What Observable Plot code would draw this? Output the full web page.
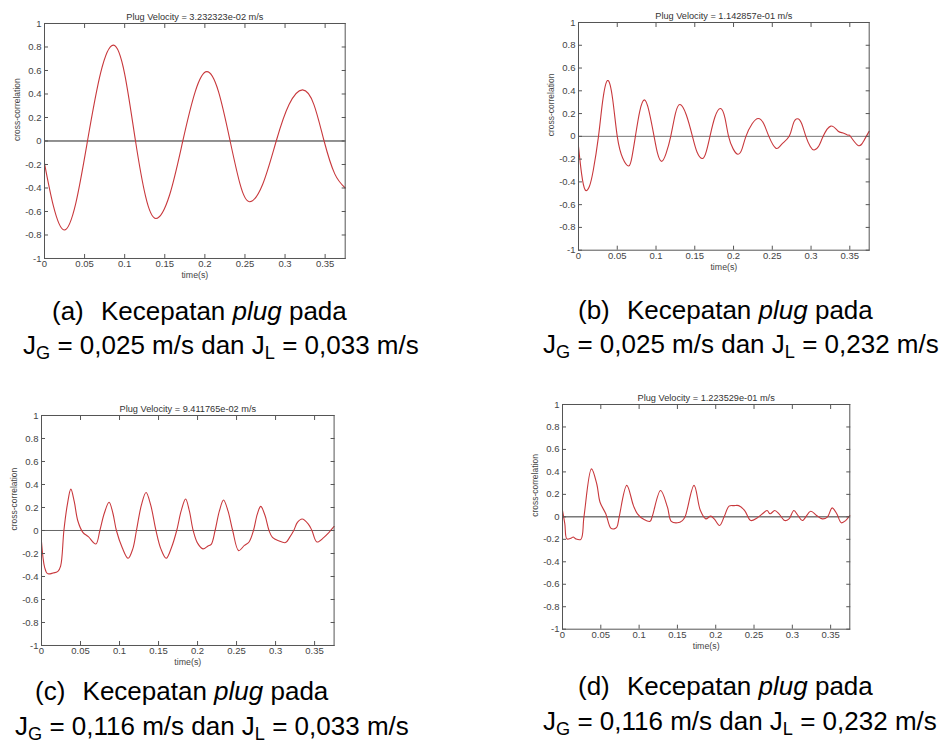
<!DOCTYPE html>
<html><head><meta charset="utf-8">
<script src="https://cdn.jsdelivr.net/npm/d3@7"></script>
<script src="https://cdn.jsdelivr.net/npm/@observablehq/plot@0.6"></script>
<style>
body{margin:0;background:#fff;}
#root{position:relative;width:951px;height:747px;overflow:hidden;font-family:"Liberation Sans",Arial,sans-serif;background:#fff;}
.panel{position:absolute;}
.panel svg{overflow:visible;}
.cap{position:absolute;font-size:26px;line-height:35px;white-space:pre;color:#000;}
.cap sub{font-size:0.7em;vertical-align:-0.26em;line-height:0;}
</style></head><body><div id="root"></div>
<script>
// ---- data ----
const xTicks = [0, 0.05, 0.1, 0.15, 0.2, 0.25, 0.3, 0.35];
const xTickLabels = ["0", "0.05", "0.1", "0.15", "0.2", "0.25", "0.3", "0.35"];
const yTicks = [-1, -0.8, -0.6, -0.4, -0.2, 0, 0.2, 0.4, 0.6, 0.8, 1];
const yTickLabels = ["-1", "-0.8", "-0.6", "-0.4", "-0.2", "0", "0.2", "0.4", "0.6", "0.8", "1"];
const titles = [
  "Plug Velocity = 3.232323e-02 m/s",
  "Plug Velocity = 1.142857e-01 m/s",
  "Plug Velocity = 9.411765e-02 m/s",
  "Plug Velocity = 1.223529e-01 m/s"
];
const xLabel = "time(s)";
const yLabel = "cross-correlation";

const timeA = [0, 0.011, 0.0245, 0.039, 0.0536, 0.070, 0.086, 0.100, 0.1135, 0.126, 0.139, 0.156, 0.1725, 0.188, 0.2024, 0.217, 0.2315, 0.244, 0.2556, 0.272, 0.289, 0.305, 0.3217, 0.336, 0.3487, 0.362, 0.375];
const corrA = [-0.19, -0.55, -0.757, -0.53, 0, 0.58, 0.816, 0.57, 0, -0.47, -0.66, -0.46, 0, 0.42, 0.59, 0.42, 0, -0.37, -0.517, -0.37, 0, 0.31, 0.435, 0.31, 0, -0.28, -0.40];

const timeB = [0, 0.004, 0.0086, 0.014, 0.019, 0.0258, 0.031, 0.0374, 0.044, 0.050, 0.057, 0.0648, 0.069, 0.0734, 0.079, 0.085, 0.091, 0.0975, 0.102, 0.1073, 0.113, 0.119, 0.125, 0.131, 0.139, 0.147, 0.153, 0.160, 0.165, 0.1696, 0.176, 0.1833, 0.189, 0.1936, 0.1995, 0.2057, 0.211, 0.216, 0.224, 0.2319, 0.239, 0.2456, 0.2546, 0.262, 0.2718, 0.277, 0.2825, 0.288, 0.2933, 0.299, 0.304, 0.310, 0.3156, 0.3255, 0.335, 0.3414, 0.3478, 0.3508, 0.3607, 0.368, 0.375];
const corrB = [-0.09, -0.33, -0.47, -0.44, -0.30, 0, 0.30, 0.49, 0.33, 0, -0.19, -0.26, -0.18, 0, 0.22, 0.32, 0.22, 0, -0.15, -0.22, -0.15, 0, 0.20, 0.28, 0.19, 0, -0.14, -0.195, -0.13, 0, 0.17, 0.245, 0.16, 0, -0.11, -0.157, -0.11, 0, 0.11, 0.157, 0.11, 0, -0.104, -0.07, 0, 0.11, 0.154, 0.11, 0, -0.09, -0.12, -0.085, 0, 0.09, 0.045, 0.03, 0.01, 0, -0.08, -0.04, 0.045];

const timeC = [0, 0.004, 0.0076, 0.0148, 0.021, 0.0245, 0.0287, 0.033, 0.0376, 0.042, 0.0465, 0.053, 0.060, 0.0697, 0.0748, 0.0805, 0.0866, 0.0915, 0.096, 0.1035, 0.111, 0.117, 0.1217, 0.128, 0.134, 0.140, 0.1467, 0.153, 0.1598, 0.1665, 0.1733, 0.179, 0.1847, 0.1895, 0.1944, 0.200, 0.207, 0.2134, 0.2175, 0.2225, 0.228, 0.2333, 0.239, 0.245, 0.2527, 0.260, 0.266, 0.2717, 0.2765, 0.281, 0.2865, 0.2916, 0.296, 0.304, 0.3128, 0.318, 0.3233, 0.328, 0.334, 0.342, 0.3466, 0.353, 0.362, 0.368, 0.375];
const corrC = [-0.10, -0.32, -0.375, -0.37, -0.355, -0.31, 0, 0.22, 0.36, 0.25, 0.085, -0.016, -0.054, -0.117, 0, 0.15, 0.245, 0.15, 0, -0.15, -0.242, -0.16, 0, 0.22, 0.33, 0.22, 0, -0.16, -0.242, -0.15, 0, 0.17, 0.274, 0.17, 0, -0.11, -0.16, -0.135, -0.12, 0, 0.17, 0.265, 0.17, 0, -0.175, -0.13, -0.10, 0, 0.14, 0.21, 0.13, 0, -0.06, -0.09, -0.105, -0.06, 0, 0.07, 0.10, 0.056, 0, -0.10, -0.06, -0.02, 0.035];

const timeD = [0, 0.003, 0.0057, 0.011, 0.014, 0.0174, 0.024, 0.028, 0.0378, 0.0448, 0.049, 0.0565, 0.063, 0.0674, 0.071, 0.074, 0.0839, 0.0926, 0.0978, 0.1065, 0.1143, 0.117, 0.128, 0.137, 0.142, 0.150, 0.1565, 0.160, 0.1717, 0.180, 0.187, 0.1935, 0.198, 0.205, 0.211, 0.2174, 0.224, 0.230, 0.2378, 0.2457, 0.254, 0.261, 0.267, 0.271, 0.277, 0.2826, 0.290, 0.2957, 0.302, 0.3074, 0.313, 0.324, 0.3317, 0.339, 0.3457, 0.352, 0.358, 0.364, 0.3696, 0.375];
const corrD = [0.056, -0.06, -0.196, -0.19, -0.18, -0.196, -0.20, 0, 0.427, 0.29, 0.13, 0.027, -0.10, -0.107, -0.09, 0, 0.28, 0.10, 0.027, -0.024, -0.04, 0, 0.234, 0.086, -0.04, -0.053, -0.033, 0, 0.28, 0.056, -0.018, 0.006, -0.018, -0.077, 0, 0.095, 0.10, 0.10, 0.056, -0.033, -0.01, 0.027, 0.056, 0.027, 0.056, 0.027, -0.033, -0.018, 0.056, 0.012, -0.033, 0.05, 0.012, -0.018, -0.003, 0.08, 0.027, -0.053, -0.033, 0.012];

const capLine1 = ["(a)", "(b)", "(c)", "(d)"];
const capLine2 = [
  ["0,025", "0,033"],
  ["0,025", "0,232"],
  ["0,116", "0,033"],
  ["0,116", "0,232"]
];

// ---- layout (frame boxes in page pixels) ----
const frames = [
  {x: 44.3, y: 23.3, w: 300.7, h: 235, zero: "#222", curve: "natural"},
  {x: 578.3, y: 22.3, w: 290.7, h: 227.7, zero: "#777", curve: "natural"},
  {x: 40.7, y: 415, w: 292.6, h: 230, zero: "#666", curve: "catmull-rom"},
  {x: 561.7, y: 404, w: 287.3, h: 224.7, zero: "#333", curve: "catmull-rom"}
];
const capPos = [
  {x1: 52, y1: 293.5, x2: 23, y2: 327.5},
  {x1: 578, y1: 292.5, x2: 543, y2: 326.5},
  {x1: 35, y1: 674, x2: 15, y2: 709},
  {x1: 578, y1: 669, x2: 543, y2: 703.5}
];

const series = [[timeA, corrA], [timeB, corrB], [timeC, corrC], [timeD, corrD]];
const root = document.getElementById("root");
const ML = 45, MR = 10, MT = 25, MB = 30;
const fmtX = d => xTickLabels[xTicks.indexOf(d)];
const fmtY = d => yTickLabels[yTicks.indexOf(d)];

series.forEach(([time, corr], k) => {
  const f = frames[k];
  const data = time.map((t, i) => ({t, v: corr[i]}));
  const chart = Plot.plot({
    width: f.w + ML + MR,
    height: f.h + MT + MB,
    marginLeft: ML, marginRight: MR, marginTop: MT, marginBottom: MB,
    style: {fontFamily: "'Liberation Sans', Arial, sans-serif", background: "transparent", overflow: "visible"},
    x: {domain: [0, 0.375]},
    y: {domain: [-1, 1]},
    marks: [
      Plot.ruleY([0], {stroke: f.zero, strokeWidth: 1}),
      Plot.line(data, {x: "t", y: "v", stroke: "#c8383c", strokeWidth: 1.1, curve: f.curve}),
      Plot.frame({stroke: "#555", strokeWidth: 1}),
      Plot.axisX({anchor: "bottom", ticks: xTicks, tickFormat: fmtX, tickSize: -4, tickPadding: 6, fontSize: 9.5, stroke: "#555", fill: "#444", label: null}),
      Plot.axisX({anchor: "top", ticks: xTicks, tickFormat: () => "", tickSize: -4, stroke: "#555", label: null}),
      Plot.axisY({anchor: "left", ticks: yTicks, tickFormat: fmtY, tickSize: -4, tickPadding: 7, fontSize: 9.5, stroke: "#555", fill: "#444", label: null}),
      Plot.axisY({anchor: "right", ticks: yTicks, tickFormat: () => "", tickSize: -4, stroke: "#555", label: null}),
      Plot.text([titles[k]], {text: d => d, frameAnchor: "top", dy: -10, fontSize: 9.2, fill: "#333"}),
      Plot.text([xLabel], {text: d => d, frameAnchor: "bottom", dy: 20, fontSize: 8.8, fill: "#444"}),
      Plot.text([yLabel], {text: d => d, frameAnchor: "left", dx: -27, rotate: -90, fontSize: 8.5, fill: "#444"})
    ]
  });
  const wrap = document.createElement("div");
  wrap.className = "panel";
  wrap.style.left = (f.x - ML) + "px";
  wrap.style.top = (f.y - MT) + "px";
  wrap.appendChild(chart);
  root.appendChild(wrap);

  const p = capPos[k];
  const l1 = document.createElement("div");
  l1.className = "cap";
  l1.style.left = p.x1 + "px";
  l1.style.top = p.y1 + "px";
  l1.innerHTML = `<span style="margin-right:10px">${capLine1[k]}</span> Kecepatan <i>plug</i> pada`;
  root.appendChild(l1);
  const l2 = document.createElement("div");
  l2.className = "cap";
  l2.style.left = p.x2 + "px";
  l2.style.top = p.y2 + "px";
  l2.innerHTML = `J<sub>G</sub> = ${capLine2[k][0]} m/s dan J<sub>L</sub> = ${capLine2[k][1]} m/s`;
  root.appendChild(l2);
});
</script></body></html>
